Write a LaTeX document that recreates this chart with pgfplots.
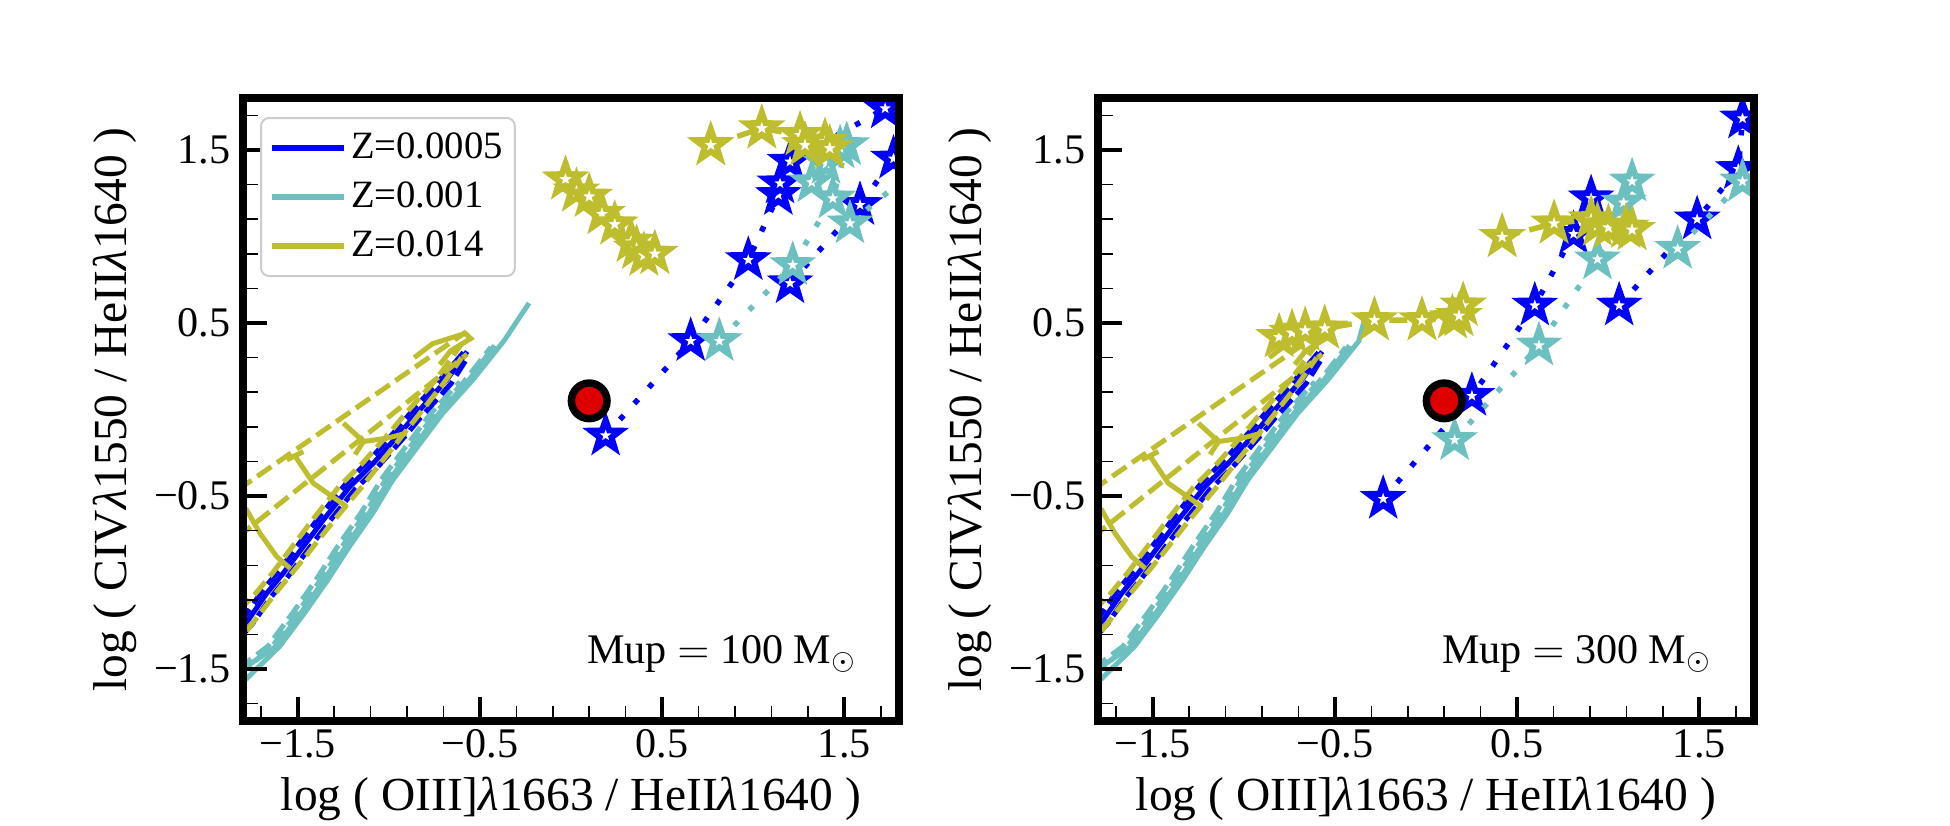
\documentclass[border=0pt]{standalone}
\usepackage{fontspec}
\setmainfont{Liberation Serif}
\usepackage{pgfplots}
\pgfplotsset{compat=1.18}
\definecolor{zblue}{RGB}{0,0,255}
\definecolor{zcyan}{RGB}{108,192,192}
\definecolor{zyel}{RGB}{190,189,45}
\definecolor{zred}{RGB}{222,0,0}

\pgfdeclareplotmark{mstar}{%
  \pgfpathmoveto{\pgfpointpolar{90}{\pgfplotmarksize}}%
  \pgfpathlineto{\pgfpointpolar{126}{0.40\pgfplotmarksize}}%
  \pgfpathlineto{\pgfpointpolar{162}{\pgfplotmarksize}}%
  \pgfpathlineto{\pgfpointpolar{198}{0.40\pgfplotmarksize}}%
  \pgfpathlineto{\pgfpointpolar{234}{\pgfplotmarksize}}%
  \pgfpathlineto{\pgfpointpolar{270}{0.40\pgfplotmarksize}}%
  \pgfpathlineto{\pgfpointpolar{306}{\pgfplotmarksize}}%
  \pgfpathlineto{\pgfpointpolar{342}{0.40\pgfplotmarksize}}%
  \pgfpathlineto{\pgfpointpolar{18}{\pgfplotmarksize}}%
  \pgfpathlineto{\pgfpointpolar{54}{0.40\pgfplotmarksize}}%
  \pgfpathclose
  \pgfusepathqfillstroke
}

\pgfplotsset{
  panel/.style={
    scale only axis, width=65.6mm, height=62.3mm,
    xmin=-1.8, xmax=1.8, ymin=-1.8, ymax=1.8,
    axis on top, clip marker paths=true,
    axis line style={line width=0.8mm, black},
    tick align=inside, tick pos=left,
    xtick={-1.5,-0.5,0.5,1.5}, ytick={-1.5,-0.5,0.5,1.5},
    xticklabels={−1.5,−0.5,0.5,1.5}, yticklabels={−1.5,−0.5,0.5,1.5},
    minor xtick={-1.7,-1.3,-1.1,-0.9,-0.7,-0.3,-0.1,0.1,0.3,0.7,0.9,1.1,1.3,1.7},
    minor ytick={-1.7,-1.3,-1.1,-0.9,-0.7,-0.3,-0.1,0.1,0.3,0.7,0.9,1.1,1.3,1.7},
    major tick length=2.4mm, minor tick length=1.5mm,
    every major tick/.append style={line width=0.4mm, black},
    every minor tick/.append style={line width=0.15mm, black},
    tick label style={font=\fontsize{12}{14}\selectfont},
    xticklabel style={inner sep=0pt, yshift=-0.8mm},
    every axis x label/.style={at={(axis description cs:0.5,-0.143)}, anchor=base, inner sep=0pt,
      font=\fontsize{13.5}{16}\selectfont},
    every axis y label/.style={at={(axis description cs:-0.178,0.5)}, anchor=base, rotate=90, inner sep=0pt,
      font=\fontsize{13.5}{16}\selectfont},
    xlabel={log ( OIII]\textit{λ}1663 / HeII\textit{λ}1640 )},
    ylabel={log ( CIV\textit{λ}1550 / HeII\textit{λ}1640 )},
  },
  bsolid/.style={line width=0.5mm},
  bdash/.style={line width=0.5mm, dash pattern=on 1.7mm off 0.7mm},
  trk/.style={line width=0.55mm, dash pattern=on 0.55mm off 1.6mm, mark=mstar, mark size=1.55mm,
    mark options={solid, fill=white, line width=0.6mm}},
  ytrk/.style={line width=0.55mm, dash pattern=on 1.8mm off 1.0mm, mark=mstar, mark size=1.6mm,
    mark options={solid, fill=white, line width=0.6mm}},
  zdot/.style={only marks, mark=*, mark size=1.78mm, mark options={fill=zred, draw=black, line width=0.75mm}},
}

% low-age model bundle, common to both panels
\newcommand\bundle[1]{%
  \addplot[zcyan, bsolid] coordinates {(-1.82,-1.58)(-1.785,-1.56)(-1.600,-1.37)(-1.463,-1.177)(-1.335,-0.985)(-1.216,-0.792)(-1.088,-0.599)(-0.978,-0.407)(-0.841,-0.214)(-0.704,-0.022)(-0.539,0.171)(-0.369,0.395)#1};
  \addplot[zcyan, bdash] coordinates {(-1.83,-1.54)(-1.64,-1.37)(-1.503,-1.177)(-1.375,-0.985)(-1.256,-0.792)(-1.128,-0.599)(-1.018,-0.407)(-0.881,-0.214)(-0.744,-0.022)(-0.579,0.171)(-0.44,0.36)};
  \addplot[zcyan, bdash] coordinates {(-1.83,-1.50)(-1.665,-1.37)(-1.528,-1.177)(-1.40,-0.985)(-1.281,-0.792)(-1.153,-0.599)(-1.043,-0.407)(-0.906,-0.214)(-0.769,-0.022)(-0.61,0.16)};
  \addplot[zcyan, bsolid] coordinates {(-1.83,-1.52)(-1.62,-1.37)(-1.483,-1.177)(-1.355,-0.985)(-1.236,-0.792)(-1.108,-0.599)(-0.998,-0.407)(-0.861,-0.214)(-0.724,-0.022)(-0.56,0.17)(-0.42,0.37)};
  \addplot[zblue, bsolid] coordinates {(-1.82,-1.27)(-1.771,-1.216)(-1.67,-1.062)(-1.579,-0.946)(-1.469,-0.792)(-1.359,-0.638)(-1.213,-0.445)(-1.085,-0.311)(-0.938,-0.137)(-0.847,-0.022)(-0.682,0.171)(-0.57,0.335)};
  \addplot[zblue, bdash] coordinates {(-1.8,-1.3)(-1.746,-1.236)(-1.645,-1.082)(-1.554,-0.966)(-1.444,-0.812)(-1.334,-0.658)(-1.188,-0.465)(-1.06,-0.331)(-0.913,-0.157)(-0.822,-0.042)(-0.657,0.151)(-0.58,0.28)};
  \addplot[zblue, bdash] coordinates {(-1.83,-1.22)(-1.791,-1.196)(-1.69,-1.042)(-1.599,-0.926)(-1.489,-0.772)(-1.379,-0.618)(-1.233,-0.425)(-1.105,-0.291)(-0.958,-0.117)(-0.867,-0.002)(-0.702,0.191)(-0.59,0.33)};
  \addplot[zyel, bdash] coordinates {(-1.83,-0.465)(-1.816,-0.455)(-0.957,0.171)(-0.575,0.449)};
  \addplot[zyel, bdash] coordinates {(-1.83,-0.74)(-1.78,-0.696)(-0.792,0.132)(-0.57,0.32)};
  \addplot[zyel, bdash] coordinates {(-1.83,-1.17)(-1.73,-1.062)(-1.639,-0.946)(-1.529,-0.792)(-1.419,-0.638)(-1.273,-0.445)(-1.145,-0.311)(-0.998,-0.137)(-0.907,-0.022)(-0.742,0.171)(-0.6,0.38)};
  \addplot[zyel, bdash] coordinates {(-1.78,-1.28)(-1.62,-1.06)(-1.45,-0.84)(-1.3,-0.64)(-1.15,-0.45)(-1.0,-0.25)(-0.85,-0.05)(-0.7,0.15)(-0.6,0.3)};
  \addplot[zyel, bsolid] coordinates {(-1.83,-0.55)(-1.78,-0.58)(-1.707,-0.715)(-1.615,-0.85)(-1.542,-0.917)};
  \addplot[zyel, bsolid] coordinates {(-1.56,-0.291)(-1.469,-0.243)};
  \addplot[zyel, bsolid] coordinates {(-1.515,-0.268)(-1.414,-0.426)(-1.231,-0.561)};
  \addplot[zyel, bsolid] coordinates {(-1.249,-0.079)(-1.139,-0.185)(-1.011,-0.166)(-0.902,-0.137)};
  \addplot[zyel, bsolid] coordinates {(-1.139,-0.185)(-1.185,-0.26)};
  \addplot[zyel, bsolid] coordinates {(-0.86,0.30)(-0.76,0.38)(-0.58,0.44)(-0.55,0.41)(-0.66,0.34)(-0.72,0.26)};
}

\begin{document}
\begin{tikzpicture}
\path[use as bounding box] (0,0) rectangle (195mm,82.5mm);

% ---------------- left panel: Mup = 100 ----------------
\begin{axis}[panel, anchor=south west, at={(24.3mm,10.4mm)},
  legend style={at={(0.026,0.9695)}, anchor=north west, draw=black!20, line width=0.2mm,
    rounded corners=0.8mm, fill=white, font=\fontsize{11}{13}\selectfont,
    inner xsep=0.8mm, inner ysep=0.9mm, row sep=0.7mm, cells={anchor=west},
    nodes={inner sep=0.4mm, text height=2.7mm, text depth=0.7mm},
    /tikz/every even column/.append style={column sep=1.5mm}},
  legend image code/.code={\draw[#1] (0mm,0mm) -- (7.2mm,0mm);}]
\addlegendimage{zblue, line width=0.6mm}\addlegendentry{Z=0.0005}
\addlegendimage{zcyan, line width=0.6mm}\addlegendentry{Z=0.001}
\addlegendimage{zyel, line width=0.6mm}\addlegendentry{Z=0.014}

\bundle{(-0.23,0.615)}

\addplot[zblue, trk] coordinates {(0.19,-0.15)(0.657,0.396)(0.973,0.864)(1.138,1.24)(1.147,1.307)(1.202,1.432)(1.724,1.74)};
\addplot[zblue, trk] coordinates {(1.202,0.73)(1.586,1.182)(1.77,1.45)(1.86,1.6)};
\addplot[zcyan, trk] coordinates {(0.814,0.396)(1.217,0.835)(1.437,1.22)(1.513,1.528)};
\addplot[zcyan, trk] coordinates {(1.321,1.313)(1.40,1.42)(1.477,1.51)};
\addplot[zcyan, trk] coordinates {(1.531,1.076)(1.86,1.36)};
\addplot[zyel, ytrk] coordinates {(0.767,1.528)(1.047,1.625)(1.257,1.586)(1.284,1.528)(1.394,1.548)(1.42,1.51)};
\addplot[zyel, ytrk] coordinates {(-0.03,1.33)(0.03,1.26)(0.1,1.23)(0.17,1.13)(0.24,1.07)(0.33,0.97)(0.36,0.93)(0.40,0.89)(0.46,0.90)};

\addplot[zdot] coordinates {(0.1,0.05)};
\node[anchor=base east, font=\fontsize{12}{14}\selectfont] at (rel axis cs:0.954,0.093) {Mup $=$ 100 M$_{\odot}$};
\end{axis}

% ---------------- right panel: Mup = 300 ----------------
\begin{axis}[panel, anchor=south west, at={(109.8mm,10.4mm)}]
\bundle{(-0.33,0.55)}

\addplot[zblue, trk] coordinates {(-0.235,-0.516)(0.252,0.079)(0.597,0.601)(0.81,1.014)(0.906,1.221)};
\addplot[zblue, trk] coordinates {(1.06,0.601)(1.488,1.099)(1.714,1.39)(1.737,1.682)(1.78,1.82)};
\addplot[zcyan, trk] coordinates {(0.157,-0.176)(0.62,0.37)(0.941,0.868)(1.084,1.196)(1.131,1.318)};
\addplot[zcyan, trk] coordinates {(1.381,0.929)(1.737,1.318)(1.84,1.42)};
\addplot[zyel, ytrk] coordinates {(-0.806,0.419)(-0.735,0.443)(-0.663,0.456)(-0.556,0.468)(-0.283,0.516)(-0.022,0.516)(0.145,0.528)(0.204,0.601)(0.181,0.541)};
\addplot[zyel, ytrk] coordinates {(0.418,0.997)(0.703,1.075)(0.906,1.099)(0.941,1.063)(1.001,1.051)(1.096,1.051)(1.131,1.038)};

\addplot[zdot] coordinates {(0.1,0.05)};
\node[anchor=base east, font=\fontsize{12}{14}\selectfont] at (rel axis cs:0.954,0.093) {Mup $=$ 300 M$_{\odot}$};
\end{axis}
\end{tikzpicture}
\end{document}
